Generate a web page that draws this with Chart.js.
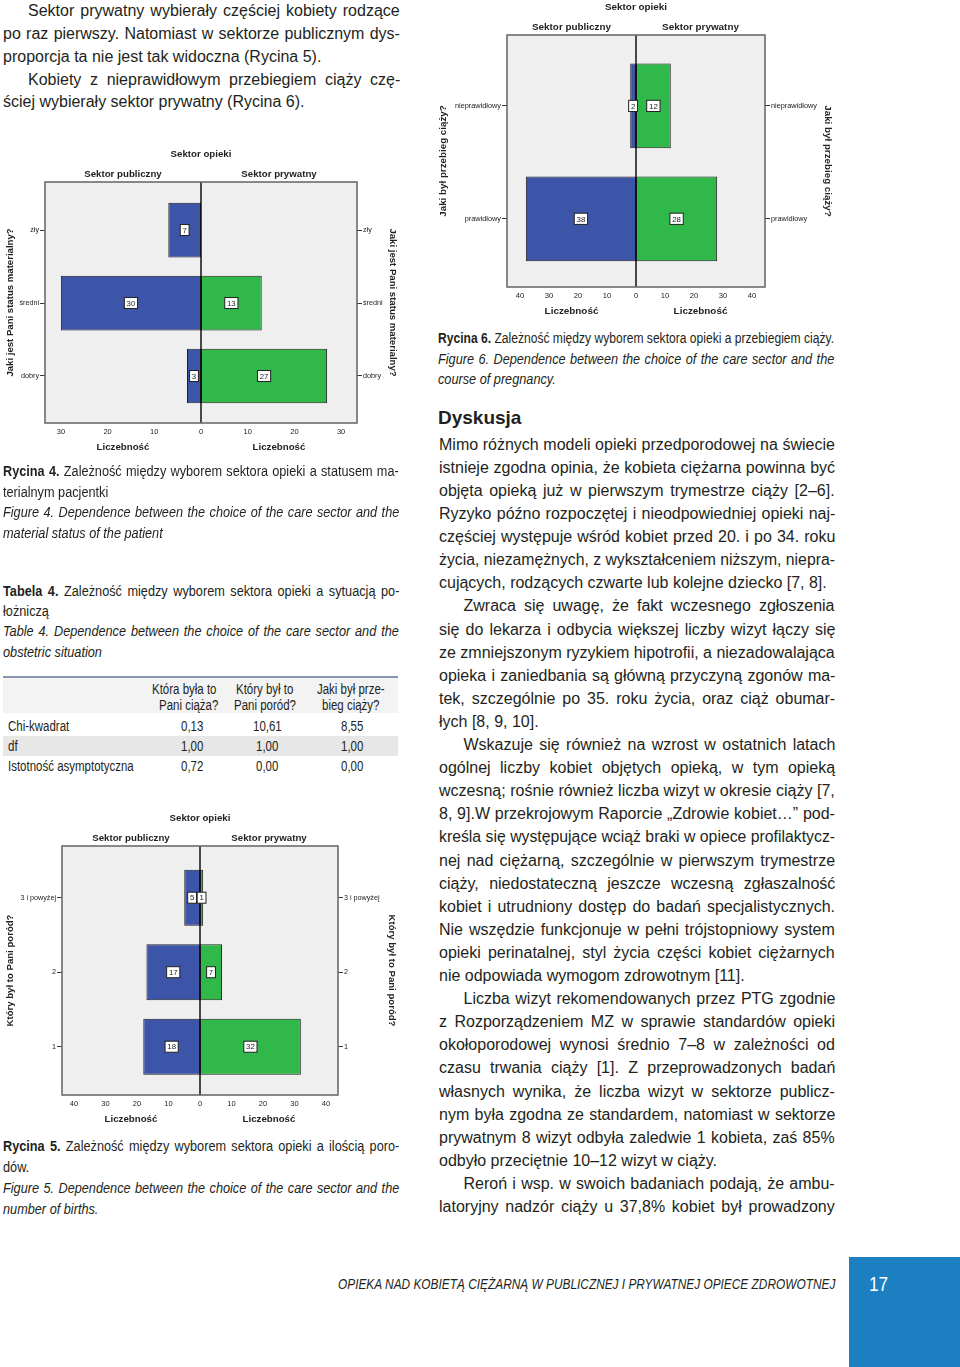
<!DOCTYPE html>
<html lang="pl">
<head>
<meta charset="utf-8">
<title>Sektor opieki</title>
<script src="https://cdn.jsdelivr.net/npm/chart.js@4.4.1/dist/chart.umd.min.js"></script>
<style>
  html,body{margin:0;padding:0;}
  body{width:960px;height:1367px;position:relative;overflow:hidden;background:#fff;color:#231f20;
       font-family:"Liberation Sans",Arial,Helvetica,sans-serif;}
  .ln{position:absolute;white-space:nowrap;}
  .body{font-size:16px;}
  .cond{font-family:"Liberation Sans Narrow","Liberation Sans",Arial,sans-serif;font-size:15.5px;}
  .tab{font-family:"Liberation Sans Narrow","Liberation Sans",Arial,sans-serif;font-size:14px;}
  .foot{font-family:"Liberation Sans Narrow","Liberation Sans",Arial,sans-serif;font-size:15px;font-style:italic;}
  .pg{font-family:"Liberation Sans Narrow","Liberation Sans",Arial,sans-serif;font-size:21px;}
  .head{font-size:19px;font-weight:bold;}
  canvas{position:absolute;}
  .band{position:absolute;}
</style>
</head>
<body>
<canvas id="c4" width="400" height="323" style="left:0;top:140px;"></canvas>
<canvas id="c6" width="408" height="327" style="left:432px;top:0;"></canvas>
<canvas id="c5" width="400" height="329" style="left:0;top:806px;"></canvas>

<div class="band" style="left:3px;top:676px;width:395px;height:1.5px;background:#8796ab;"></div>
<div class="band" style="left:3px;top:678px;width:395px;height:35px;background:#f3f3f4;"></div>
<div class="band" style="left:3px;top:736px;width:395px;height:20px;background:#e7e7e8;"></div>
<div class="band" style="left:849px;top:1257px;width:111px;height:110px;background:#1b7fc2;"></div>

<script>
// ---------- data ----------
const sectorTitle = 'Sektor opieki';
const sectorNames = ['Sektor publiczny', 'Sektor prywatny'];
const countLabel = 'Liczebność';

const statusCategories = ['zły', 'średni', 'dobry'];
const statusPublic = [7, 30, 3];
const statusPrivate = [null, 13, 27];
const statusTicks = [-30, -20, -10, 0, 10, 20, 30];

const birthCategories = ['3 i powyżej', '2', '1'];
const birthPublic = [5, 17, 18];
const birthPrivate = [1, 7, 32];
const birthTicks = [-40, -30, -20, -10, 0, 10, 20, 30, 40];

const courseCategories = ['nieprawidłowy', 'prawidłowy'];
const coursePublic = [2, 38];
const coursePrivate = [12, 28];
const courseTicks = [-40, -30, -20, -10, 0, 10, 20, 30, 40];

const tableColumns = [['Która była to', 'Pani ciąża?'], ['Który był to', 'Pani poród?'], ['Jaki był prze-', 'bieg ciąży?']];
const tableRows = ['Chi-kwadrat', 'df', 'Istotność asymptotyczna'];
const chiSquare = ['0,13', '10,61', '8,55'];
const dfValues = ['1,00', '1,00', '1,00'];
const significance = ['0,72', '0,00', '0,00'];

// ---------- styles ----------
const BLUE = '#3d55a8', GREEN = '#30b84a', EDGE = '#1f1f1f';
const PLOT_BG = '#efefef', FRAME = '#6c6c6c', INK = '#222';
const FONT = '"Liberation Sans", Arial, sans-serif';

const decor = {
  id: 'decor',
  beforeDatasetsDraw(chart) {
    const {ctx, chartArea: a} = chart;
    ctx.save();
    ctx.fillStyle = PLOT_BG;
    ctx.fillRect(a.left, a.top, a.right - a.left, a.bottom - a.top);
    ctx.restore();
  },
  afterDatasetsDraw(chart, args, o) {
    const {ctx, chartArea: a} = chart;
    const x = chart.scales.x;
    const z = x.getPixelForValue(0);
    ctx.save();
    ctx.strokeStyle = '#111'; ctx.lineWidth = 1.5;
    ctx.beginPath(); ctx.moveTo(z, a.top); ctx.lineTo(z, a.bottom); ctx.stroke();
    ctx.strokeStyle = FRAME; ctx.lineWidth = 1.6;
    ctx.strokeRect(a.left, a.top, a.right - a.left, a.bottom - a.top);

    ctx.font = (7.8 * o.fs) + 'px ' + FONT;
    ctx.textAlign = 'center'; ctx.textBaseline = 'middle';
    chart.data.datasets.forEach((ds, di) => {
      chart.getDatasetMeta(di).data.forEach((bar, i) => {
        const txt = String(Math.abs(ds.data[i].x));
        const cx = (bar.x + bar.base) / 2, cy = bar.y;
        const tw = ctx.measureText(txt).width;
        const bw = tw + 4.5, bh = 11 * o.fs;
        ctx.fillStyle = '#fff';
        ctx.fillRect(cx - bw / 2, cy - bh / 2, bw, bh);
        ctx.strokeStyle = '#222'; ctx.lineWidth = 1;
        ctx.strokeRect(cx - bw / 2, cy - bh / 2, bw, bh);
        ctx.fillStyle = '#222';
        ctx.fillText(txt, cx, cy + 0.5);
      });
    });

    ctx.font = 'bold ' + (9.7 * o.fs) + 'px ' + FONT;
    ctx.fillStyle = INK;
    const lc = (a.left + z) / 2, rc = (z + a.right) / 2;
    ctx.fillText(sectorTitle, z, a.top - 27.5);
    ctx.fillText(sectorNames[0], lc, a.top - 8);
    ctx.fillText(sectorNames[1], rc, a.top - 8);
    ctx.fillText(countLabel, lc, a.bottom + 24);
    ctx.fillText(countLabel, rc, a.bottom + 24);
    ctx.restore();
  }
};

function pyramid(id, s) {
  const n = s.cats.length;
  const pts = (vals, sign) => vals.map((v, i) => v == null ? null : {x: sign * v, y: i}).filter(Boolean);
  const catTicks = axis => { axis.ticks = s.cats.map((c, i) => ({value: i})); };
  const yBase = (pos, width, pad) => ({
    type: 'linear', position: pos, reverse: true, stacked: true, offset: false, bounds: 'data',
    min: -s.yLo, max: n - 1 + s.yHi,
    afterBuildTicks: catTicks,
    afterFit: axis => { axis.width = width; },
    ticks: {callback: v => s.cats[v], font: {family: FONT, size: 7.2 * s.fs}, color: INK, padding: 1, autoSkip: false},
    grid: {display: true, offset: false, drawOnChartArea: false, drawTicks: true, tickLength: 5, color: '#333', lineWidth: 1},
    border: {display: false},
    title: {display: true, text: s.yTitle, color: INK, padding: {top: pad, bottom: 0},
            font: {family: FONT, size: 9.6 * s.fs, weight: 'bold'}}
  });
  return new Chart(document.getElementById(id), {
    type: 'bar',
    data: {datasets: [
      {label: sectorNames[0], data: pts(s.pub, -1), backgroundColor: BLUE, borderColor: EDGE, borderWidth: 1,
       borderSkipped: false, barPercentage: 0.75, categoryPercentage: 1},
      {label: sectorNames[1], data: pts(s.prv, 1), backgroundColor: GREEN, borderColor: EDGE, borderWidth: 1,
       borderSkipped: false, barPercentage: 0.75, categoryPercentage: 1}
    ]},
    options: {
      indexAxis: 'y', responsive: false, animation: false, devicePixelRatio: 1,
      layout: {padding: {top: s.padTop, left: 0, right: 0, bottom: 0}},
      plugins: {legend: {display: false}, tooltip: {enabled: false}, decor: {fs: s.fs}},
      scales: {
        x: {type: 'linear', stacked: true, offset: false, min: -s.range, max: s.range,
            afterBuildTicks: axis => { axis.ticks = s.ticks.map(v => ({value: v})); },
            afterFit: axis => { axis.height = s.xH; },
            ticks: {callback: v => Math.abs(v), font: {family: FONT, size: 7.5 * s.fs}, color: INK,
                    padding: 4.3, autoSkip: false, maxRotation: 0},
            grid: {display: false, drawTicks: false}, border: {display: false}},
        y: yBase('left', s.leftW, s.lPad),
        y2: yBase('right', s.rightW, s.rPad)
      }
    },
    plugins: [decor]
  });
}

pyramid('c4', {cats: statusCategories, pub: statusPublic, prv: statusPrivate, ticks: statusTicks,
  range: 33.4, yLo: 0.658, yHi: 0.644, padTop: 42, leftW: 45, rightW: 43, xH: 40,
  yTitle: 'Jaki jest Pani status materialny?', lPad: 4.2, rPad: 1.2, fs: 1});
pyramid('c5', {cats: birthCategories, pub: birthPublic, prv: birthPrivate, ticks: birthTicks,
  range: 43.8, yLo: 0.694, yHi: 0.648, padTop: 40, leftW: 62, rightW: 62, xH: 40,
  yTitle: 'Który był to Pani poród?', lPad: 4.2, rPad: 2.5, fs: 1});
pyramid('c6', {cats: courseCategories, pub: coursePublic, prv: coursePrivate, ticks: courseTicks,
  range: 44.5, yLo: 0.628, yHi: 0.604, padTop: 35, leftW: 75, rightW: 75, xH: 40,
  yTitle: 'Jaki był przebieg ciąży?', lPad: 5.5, rPad: 6.2, fs: 1.02});

// ---------- text ----------
function hasFont(name) {
  const sp = document.createElement('span');
  sp.style.cssText = 'position:absolute;visibility:hidden;font-size:40px;white-space:nowrap;font-family:monospace';
  sp.textContent = 'mmmmmwwwwiiilllNNN';
  document.body.appendChild(sp);
  const a = sp.offsetWidth;
  sp.style.fontFamily = '"' + name + '", monospace';
  const b = sp.offsetWidth;
  sp.remove();
  return a !== b;
}
const SQ = hasFont('Liberation Sans Narrow') ? 1 : 0.82;

function put(html, o) {
  const lh = o.lh || 20;
  const d = document.createElement('div');
  d.className = 'ln ' + (o.cls || '');
  d.innerHTML = html;
  d.style.lineHeight = lh + 'px';
  d.style.top = (o.y - lh / 2) + 'px';
  if (o.color) d.style.color = o.color;
  document.body.appendChild(d);
  const nat = d.offsetWidth;
  const s0 = /cond|tab|foot|pg/.test(o.cls || '') ? SQ : 1;
  let sc = s0, w = nat * s0;
  if (o.w != null) {
    if (o.stretch) { sc = o.w / nat; w = o.w; }
    else if (nat * s0 > o.w) { sc = o.w / nat; w = o.w; }
    else if (o.just) {
      const sp = (d.textContent.match(/ /g) || []).length;
      if (sp) { d.style.wordSpacing = ((o.w / s0 - nat) / sp) + 'px'; w = o.w; }
    }
  }
  let left = o.x;
  if (o.align === 'center') left = o.x - w / 2;
  if (o.align === 'right') left = o.x - w;
  d.style.left = left + 'px';
  d.style.transformOrigin = '0 50%';
  if (Math.abs(sc - 1) > 1e-4) d.style.transform = 'scaleX(' + sc + ')';
}

function block(x, y0, lh, w, cls, lines, indent) {
  lines.forEach((raw, i) => {
    let t = raw, ind = 0, just = true;
    if (t.startsWith('\t')) { ind = indent; t = t.slice(1); }
    if (t.endsWith('|')) { just = false; t = t.slice(0, -1); }
    put(t, {x: x + ind, y: y0 + i * lh, lh: lh, w: w - ind, just: just, cls: cls});
  });
}

block(3, 11.7, 22.75, 397, 'body', [
  '\tSektor prywatny wybierały częściej kobiety rodzące',
  'po raz pierwszy. Natomiast w sektorze publicznym dys-',
  'proporcja ta nie jest tak widoczna (Rycina 5).|',
  '\tKobiety z nieprawidłowym przebiegiem ciąży czę-',
  'ściej wybierały sektor prywatny (Rycina 6).|'
], 25);

block(3, 471.7, 20.5, 396, 'cond', [
  '<b>Rycina 4.</b> Zależność między wyborem sektora opieki a statusem ma-',
  'terialnym pacjentki|',
  '<i>Figure 4. Dependence between the choice of the care sector and the</i>',
  '<i>material status of the patient</i>|'
], 0);

block(3, 591, 20.2, 396, 'cond', [
  '<b>Tabela 4.</b> Zależność między wyborem sektora opieki a sytuacją po-',
  'łożniczą|',
  '<i>Table 4. Dependence between the choice of the care sector and the</i>',
  '<i>obstetric situation</i>|'
], 0);

block(3, 1145, 21, 396, 'cond', [
  '<b>Rycina 5.</b> Zależność między wyborem sektora opieki a ilością poro-',
  'dów.|',
  '<i>Figure 5. Dependence between the choice of the care sector and the</i>',
  '<i>number of births.</i>|'
], 0);

block(438, 338.3, 20.5, 396, 'cond', [
  '<b>Rycina 6.</b> Zależność między wyborem sektora opieki a przebiegiem ciąży.',
  '<i>Figure 6. Dependence between the choice of the care sector and the</i>',
  '<i>course of pregnancy.</i>|'
], 0);

put('Dyskusja', {x: 438, y: 418, lh: 24, cls: 'head'});

block(439, 444.3, 23.1, 396, 'body', [
  'Mimo różnych modeli opieki przedporodowej na świecie',
  'istnieje zgodna opinia, że kobieta ciężarna powinna być',
  'objęta opieką już w pierwszym trymestrze ciąży [2–6].',
  'Ryzyko późno rozpoczętej i nieodpowiedniej opieki naj-',
  'częściej występuje wśród kobiet przed 20. i po 34. roku',
  'życia, niezamężnych, z wykształceniem niższym, niepra-',
  'cujących, rodzących czwarte lub kolejne dziecko [7, 8].|',
  '\tZwraca się uwagę, że fakt wczesnego zgłoszenia',
  'się do lekarza i odbycia większej liczby wizyt łączy się',
  'ze zmniejszonym ryzykiem hipotrofii, a niezadowalająca',
  'opieka i zaniedbania są główną przyczyną zgonów ma-',
  'tek, szczególnie po 35. roku życia, oraz ciąż obumar-',
  'łych [8, 9, 10].|',
  '\tWskazuje się również na wzrost w ostatnich latach',
  'ogólnej liczby kobiet objętych opieką, w tym opieką',
  'wczesną; rośnie również liczba wizyt w okresie ciąży [7,',
  '8, 9].W przekrojowym Raporcie „Zdrowie kobiet…” pod-',
  'kreśla się występujące wciąż braki w opiece profilaktycz-',
  'nej nad ciężarną, szczególnie w pierwszym trymestrze',
  'ciąży, niedostateczną jeszcze wczesną zgłaszalność',
  'kobiet i utrudniony dostęp do badań specjalistycznych.',
  'Nie wszędzie funkcjonuje w pełni trójstopniowy system',
  'opieki perinatalnej, styl życia części kobiet ciężarnych',
  'nie odpowiada wymogom zdrowotnym [11].|',
  '\tLiczba wizyt rekomendowanych przez PTG zgodnie',
  'z Rozporządzeniem MZ w sprawie standardów opieki',
  'okołoporodowej wynosi średnio 7–8 w zależności od',
  'czasu trwania ciąży [1]. Z przeprowadzonych badań',
  'własnych wynika, że liczba wizyt w sektorze publicz-',
  'nym była zgodna ze standardem, natomiast w sektorze',
  'prywatnym 8 wizyt odbyła zaledwie 1 kobieta, zaś 85%',
  'odbyło przeciętnie 10–12 wizyt w ciąży.|',
  '\tReroń i wsp. w swoich badaniach podają, że ambu-',
  'latoryjny nadzór ciąży u 37,8% kobiet był prowadzony'
], 24.5);

// table
const headCenters = [[184, 189], [265, 265], [350.5, 351]];
tableColumns.forEach((col, c) => {
  col.forEach((t, l) => put(t, {x: headCenters[c][l], y: 689 + l * 16.5, lh: 17, cls: 'tab', align: 'center'}));
});
const valCenters = [192, 267, 352];
[chiSquare, dfValues, significance].forEach((vals, r) => {
  const y = 726 + r * 19.9;
  put(tableRows[r], {x: 8, y: y, lh: 18, cls: 'tab'});
  vals.forEach((v, c) => put(v, {x: valCenters[c], y: y, lh: 18, cls: 'tab', align: 'center'}));
});

// footer
put('OPIEKA NAD KOBIETĄ CIĘŻARNĄ W PUBLICZNEJ I PRYWATNEJ OPIECE ZDROWOTNEJ',
    {x: 338, y: 1284, lh: 18, w: 497, stretch: true, cls: 'foot'});
put('17', {x: 869, y: 1284, lh: 26, cls: 'pg', color: '#ffffff'});
</script>
</body>
</html>
